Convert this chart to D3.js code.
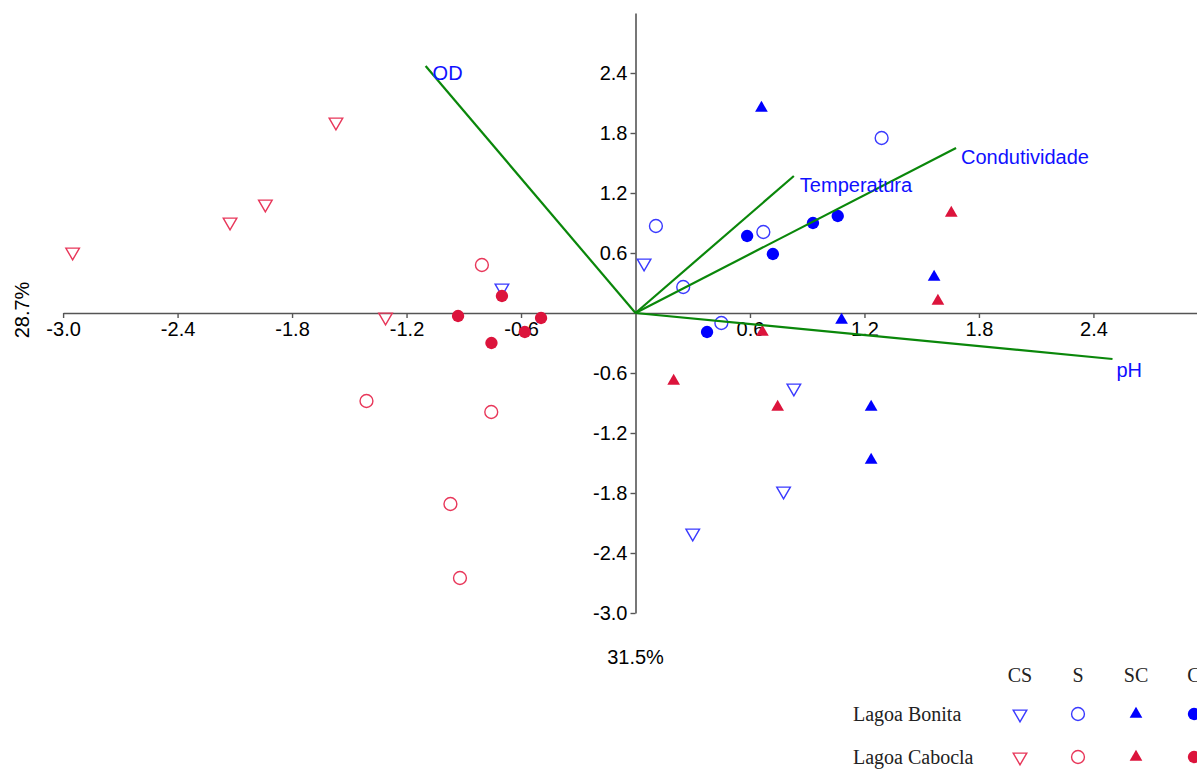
<!DOCTYPE html>
<html>
<head>
<meta charset="utf-8">
<title>PCA biplot</title>
<script src="https://d3js.org/d3.v7.min.js"></script>
<style>
  body { margin: 0; background: #fff; }
  .tick text { font-family: "Liberation Sans", Arial, sans-serif; font-size: 20px; fill: #000; }
</style>
</head>
<body>
<svg width="1197" height="769" id="mainsvg"></svg>
<script>
// tick labels
const tickValues = [-3.0, -2.4, -1.8, -1.2, -0.6, 0.6, 1.2, 1.8, 2.4];

// variable vectors (loadings)
const vecNames = ['OD', 'Temperatura', 'Condutividade', 'pH'];
const vecX = [-1.10, 0.83, 1.68, 2.50];
const vecY = [2.47, 1.37, 1.65, -0.46];

// scores: Lagoa Bonita
const bonitaCS = [[0.045, 0.50], [-0.70, 0.25], [0.83, -0.75], [0.776, -1.78], [0.30, -2.20]];
const bonitaS  = [[0.107, 0.87], [0.67, 0.81], [1.29, 1.75], [0.25, 0.26], [0.45, -0.10]];
const bonitaSC = [[0.66, 2.05], [1.565, 0.36], [1.08, -0.07], [1.235, -0.94], [1.235, -1.47]];
const bonitaC  = [[0.585, 0.77], [0.93, 0.90], [1.06, 0.97], [0.72, 0.59], [0.375, -0.19]];

// scores: Lagoa Cabocla
const caboclaCS = [[-2.95, 0.61], [-2.125, 0.91], [-1.94, 1.09], [-1.57, 1.91], [-1.31, -0.04]];
const caboclaS  = [[-0.805, 0.48], [-1.41, -0.88], [-0.756, -0.99], [-0.97, -1.91], [-0.92, -2.65]];
const caboclaSC = [[1.655, 1.00], [1.585, 0.12], [0.665, -0.19], [0.20, -0.68], [0.745, -0.94]];
const caboclaC  = [[-0.70, 0.17], [-0.93, -0.03], [-0.495, -0.05], [-0.58, -0.19], [-0.755, -0.30]];

const seasons = ['CS', 'S', 'SC', 'C'];
const sites = ['Lagoa Bonita', 'Lagoa Cabocla'];
const axisPct = ['31.5%', '28.7%'];

const svg = d3.select('#mainsvg');
const blue = '#0000ff', blueOpen = '#3a3aff';
const red = '#dc143c', redOpen = '#e8375a';

const xScale = d3.scaleLinear().domain([-3, 3]).range([63.1, 1207.9]);
const yScale = d3.scaleLinear().domain([-3, 3]).range([613, 13]);

// marker styles per season
const markerStyle = {
  CS: { type: d3.symbolTriangle, size: 80, rotate: 180, fill: false },
  S:  { type: d3.symbolCircle, size: 130, rotate: 0, fill: false },
  SC: { type: d3.symbolTriangle, size: 70, rotate: 0, fill: true },
  C:  { type: d3.symbolCircle, size: 120, rotate: 0, fill: true }
};

function drawMarker(g, season, color, openColor, cx, cy) {
  const st = markerStyle[season];
  const path = d3.symbol().type(st.type).size(st.size)();
  g.append('path')
    .attr('d', path)
    .attr('transform', `translate(${cx},${cy}) rotate(${st.rotate})`)
    .attr('fill', st.fill ? color : 'none')
    .attr('stroke', st.fill ? 'none' : openColor)
    .attr('stroke-width', 1.4);
}

// axes (plain hyphen for negatives, like the original)
const fmt = d => d.toFixed(1);
const xAxis = d3.axisBottom(xScale).tickValues(tickValues).tickFormat(fmt)
  .tickSize(5).tickSizeOuter(0).tickPadding(4);
const yAxis = d3.axisLeft(yScale).tickValues(tickValues).tickFormat(fmt)
  .tickSize(5).tickSizeOuter(0).tickPadding(3);

const xg = svg.append('g').attr('transform', `translate(0,${yScale(0)})`).call(xAxis);
const yg = svg.append('g').attr('transform', `translate(${xScale(0)},0)`).call(yAxis);
[xg, yg].forEach(a => {
  a.select('.domain').attr('stroke', '#555').attr('stroke-width', 1.6);
  a.selectAll('.tick line').attr('stroke', '#555').attr('stroke-width', 1.4);
});

// axis percentages
svg.append('text')
  .attr('x', xScale(0)).attr('y', 664)
  .attr('text-anchor', 'middle')
  .attr('font-family', '"Liberation Sans", Arial, sans-serif').attr('font-size', 20)
  .text(axisPct[0]);
svg.append('text')
  .attr('transform', `translate(29,${yScale(0) - 3}) rotate(-90)`)
  .attr('text-anchor', 'middle')
  .attr('font-family', '"Liberation Sans", Arial, sans-serif').attr('font-size', 20)
  .text(axisPct[1]);

// points
const pts = svg.append('g');
const groups = [
  ['CS', bonitaCS, blue, blueOpen], ['S', bonitaS, blue, blueOpen],
  ['SC', bonitaSC, blue, blueOpen], ['C', bonitaC, blue, blueOpen],
  ['CS', caboclaCS, red, redOpen], ['S', caboclaS, red, redOpen],
  ['SC', caboclaSC, red, redOpen], ['C', caboclaC, red, redOpen]
];
groups.forEach(([season, data, col, openCol]) => {
  data.forEach(d => drawMarker(pts, season, col, openCol, xScale(d[0]), yScale(d[1])));
});

// vectors
const vec = svg.append('g');
vecNames.forEach((name, i) => {
  vec.append('line')
    .attr('x1', xScale(0)).attr('y1', yScale(0))
    .attr('x2', xScale(vecX[i])).attr('y2', yScale(vecY[i]))
    .attr('stroke', '#0a870a').attr('stroke-width', 2.2);
});
const labelOffsets = [[7, 14], [6, 16], [5, 16], [4, 18]];
vecNames.forEach((name, i) => {
  vec.append('text')
    .attr('x', xScale(vecX[i]) + labelOffsets[i][0])
    .attr('y', yScale(vecY[i]) + labelOffsets[i][1])
    .attr('font-family', '"Liberation Sans", Arial, sans-serif').attr('font-size', 20)
    .attr('fill', '#1010ff')
    .text(name);
});

// legend (last column is cut by the right edge, as in the original)
const legend = svg.append('g').attr('font-family', '"Liberation Serif", "Times New Roman", serif');
const legX = [1020, 1078, 1136, 1194];
const legRowY = [714, 757];
seasons.forEach((s, i) => {
  legend.append('text').attr('x', legX[i]).attr('y', 682)
    .attr('text-anchor', 'middle').attr('font-size', 20).attr('fill', '#222').text(s);
});
sites.forEach((site, r) => {
  legend.append('text').attr('x', 853).attr('y', legRowY[r] + 7)
    .attr('font-size', 20).attr('fill', '#222').text(site);
  seasons.forEach((s, i) => {
    const col = r === 0 ? blue : red;
    const oc = r === 0 ? blueOpen : redOpen;
    drawMarker(legend, s, col, oc, legX[i], legRowY[r]);
  });
});
</script>
</body>
</html>
